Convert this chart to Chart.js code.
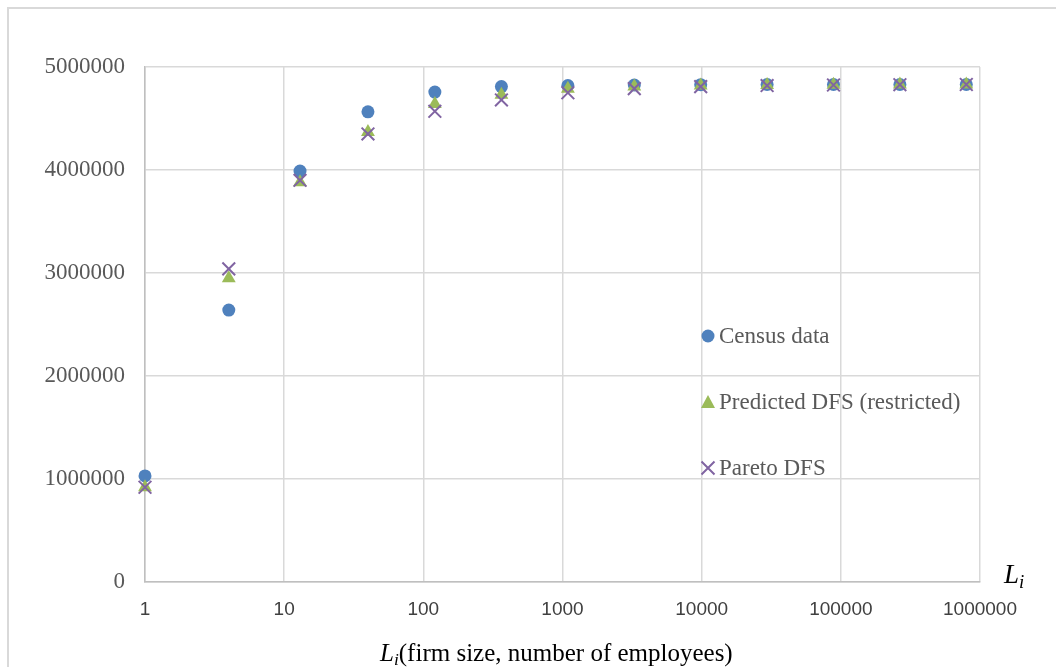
<!DOCTYPE html>
<html>
<head>
<meta charset="utf-8">
<script src="https://cdn.jsdelivr.net/npm/chart.js@4"></script>
<style>
  body { margin: 0; background: #fff; overflow: hidden; }
  #wrap { position: relative; width: 1056px; height: 667px; }
  #frame { position: absolute; left: 7px; top: 7px; width: 1100px; height: 700px; border: 2px solid #d9d9d9; box-sizing: border-box; }
  #xTitle { position: absolute; left: 380px; top: 638px; font: 25px "Liberation Serif", serif; line-height: 30px; white-space: nowrap; color: #000; }
  #liLabel { position: absolute; left: 1004px; top: 558px; font: italic 27px "Liberation Serif", serif; line-height: 32px; white-space: nowrap; color: #000; }
  sub { font-size: 0.7em; vertical-align: -0.25em; line-height: 0; }
</style>
</head>
<body>
<div id="wrap">
  <div id="frame"></div>
  <canvas id="chart" width="1056" height="667"></canvas>
  <div id="xTitle"><i>L</i><sub><i>i</i></sub>(firm size, number of employees)</div>
  <div id="liLabel">L<sub>i</sub></div>
</div>
<script>
// === Data ===
const firmSize = [1, 4, 13, 40, 121, 364, 1093, 3280, 9841, 29524, 88573, 265720, 797161];
const censusData = [1030000, 2640000, 3990000, 4565000, 4757000, 4810000, 4820000, 4825000, 4828000, 4830000, 4830000, 4830000, 4830000];
const predictedDFS = [920000, 2950000, 3880000, 4370000, 4640000, 4730000, 4790000, 4810000, 4820000, 4825000, 4828000, 4830000, 4830000];
const paretoDFS = [920000, 3040000, 3900000, 4350000, 4570000, 4680000, 4750000, 4790000, 4810000, 4820000, 4825000, 4828000, 4830000];
const xTicks = [1, 10, 100, 1000, 10000, 100000, 1000000];
const seriesNames = ["Census data", "Predicted DFS (restricted)", "Pareto DFS"];

const BLUE = "#4f81bd", GREEN = "#9bbb59", PURPLE = "#8064a2";

function toPoints(ys) {
  return firmSize.map((x, i) => ({ x: x, y: ys[i] }));
}

// === Legend drawn inside the plot ===
const insideLegend = {
  id: "insideLegend",
  afterDraw(chart) {
    const ctx = chart.ctx;
    const rows = [336, 402, 468];
    const mx = 708, tx = 719;
    ctx.save();
    ctx.font = '23px "Liberation Serif", serif';
    ctx.textBaseline = "middle";
    ctx.textAlign = "left";
    seriesNames.forEach((name, i) => {
      const y = rows[i];
      if (i === 0) {
        ctx.fillStyle = BLUE;
        ctx.beginPath(); ctx.arc(mx, y, 6.5, 0, Math.PI * 2); ctx.fill();
      } else if (i === 1) {
        ctx.fillStyle = GREEN;
        ctx.beginPath();
        ctx.moveTo(mx, y - 7); ctx.lineTo(mx + 7, y + 6); ctx.lineTo(mx - 7, y + 6);
        ctx.closePath(); ctx.fill();
      } else {
        ctx.strokeStyle = PURPLE; ctx.lineWidth = 2;
        ctx.beginPath();
        ctx.moveTo(mx - 6.5, y - 6.5); ctx.lineTo(mx + 6.5, y + 6.5);
        ctx.moveTo(mx + 6.5, y - 6.5); ctx.lineTo(mx - 6.5, y + 6.5);
        ctx.stroke();
      }
      ctx.fillStyle = "#595959";
      ctx.fillText(name, tx, y + 1);
    });
    ctx.restore();
  }
};

const ctx = document.getElementById("chart").getContext("2d");
new Chart(ctx, {
  type: "scatter",
  data: {
    datasets: [
      {
        label: seriesNames[0],
        data: toPoints(censusData),
        pointStyle: "circle",
        pointRadius: 6.5,
        pointBorderWidth: 0,
        backgroundColor: BLUE,
        borderColor: BLUE,
        clip: false,
        order: 3
      },
      {
        label: seriesNames[1],
        data: toPoints(predictedDFS),
        pointStyle: "triangle",
        pointRadius: 8,
        pointBorderWidth: 0,
        backgroundColor: GREEN,
        borderColor: GREEN,
        clip: false,
        order: 2
      },
      {
        label: seriesNames[2],
        data: toPoints(paretoDFS),
        pointStyle: "crossRot",
        pointRadius: 9,
        pointBorderWidth: 2,
        backgroundColor: PURPLE,
        borderColor: PURPLE,
        clip: false,
        order: 1
      }
    ]
  },
  options: {
    responsive: false,
    animation: false,
    layout: { padding: { top: 67, right: 76, bottom: 0, left: 0 } },
    plugins: {
      legend: { display: false },
      tooltip: { enabled: false }
    },
    scales: {
      x: {
        type: "logarithmic",
        min: 1,
        max: 1000000,
        afterBuildTicks: scale => { scale.ticks = xTicks.map(v => ({ value: v })); },
        afterFit: scale => { scale.height = 85; },
        ticks: {
          padding: 16,
          color: "#404040",
          font: { family: "Liberation Sans", size: 19 },
          maxRotation: 0,
          callback: v => String(v)
        },
        grid: { color: "#d9d9d9", lineWidth: 1.5, drawTicks: false },
        border: { color: "#bfbfbf", width: 1.5 }
      },
      y: {
        min: 0,
        max: 5000000,
        afterFit: scale => { scale.width = 145; },
        ticks: {
          stepSize: 1000000,
          padding: 20,
          color: "#595959",
          font: { family: "Liberation Serif", size: 23 },
          callback: v => String(v)
        },
        grid: { color: "#d9d9d9", lineWidth: 1.5, drawTicks: false },
        border: { color: "#bfbfbf", width: 1.5 }
      }
    }
  },
  plugins: [insideLegend]
});
</script>
</body>
</html>
